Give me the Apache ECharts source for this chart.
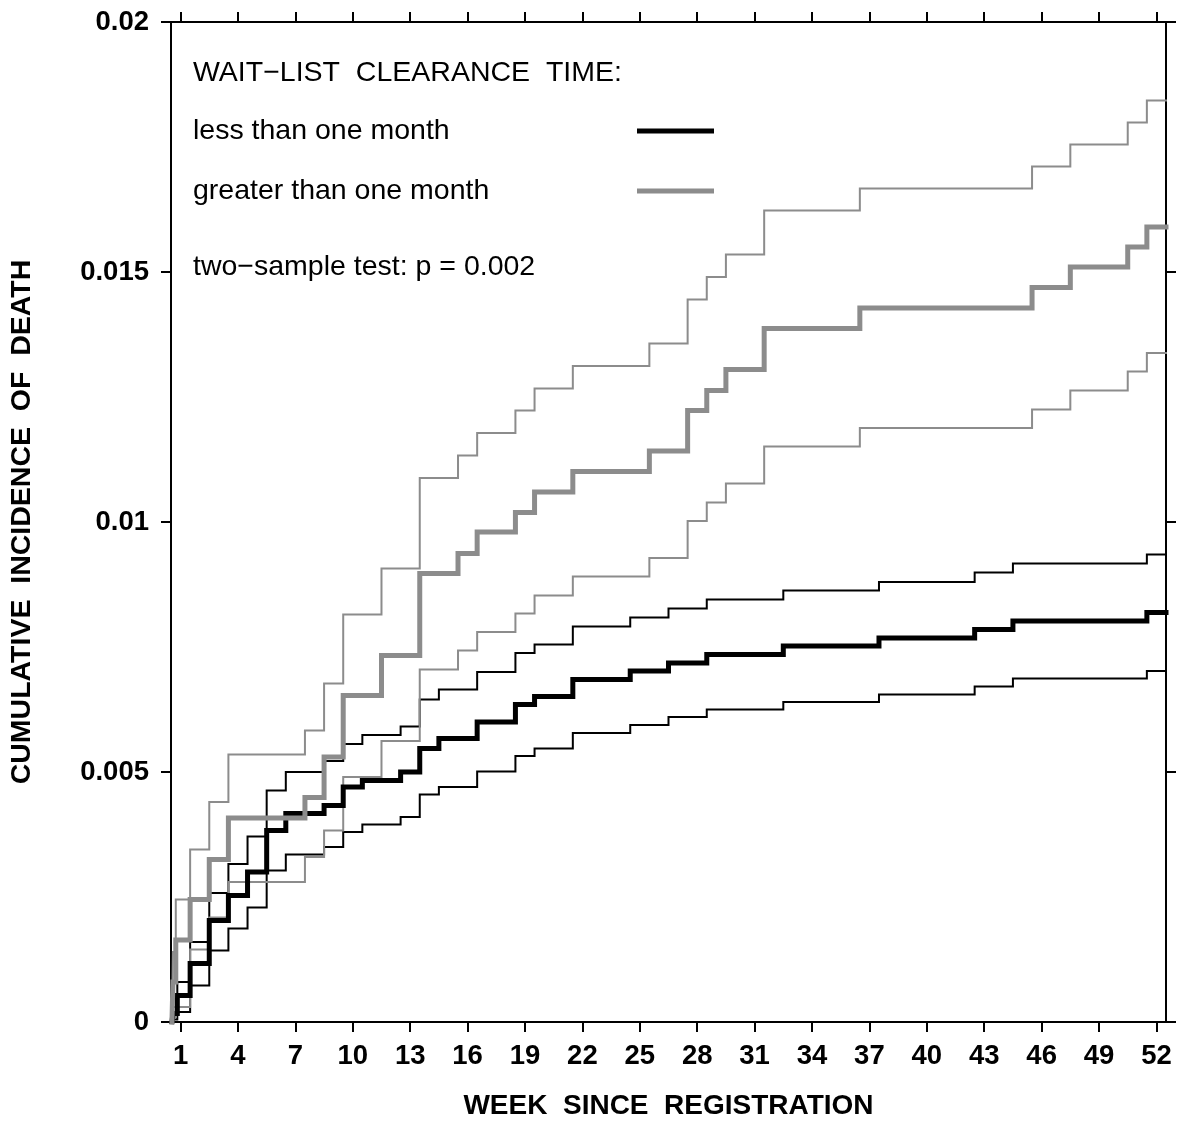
<!DOCTYPE html>
<html>
<head>
<meta charset="utf-8">
<title>Cumulative incidence of death</title>
<script src="https://cdn.jsdelivr.net/npm/echarts@6.0.0/dist/echarts.min.js"></script>
<style>
  html, body { margin: 0; padding: 0; background: #fff; }
  #main { width: 1177px; height: 1146px; }
</style>
</head>
<body>
<div id="main"></div>
<script>
// tick labels
var xTicks = [1, 4, 7, 10, 13, 16, 19, 22, 25, 28, 31, 34, 37, 40, 43, 46, 49, 52];
var yTicks = [0, 0.005, 0.01, 0.015, 0.02];
var yTickLabels = ['0', '0.005', '0.01', '0.015', '0.02'];

// less than one month: jump weeks, estimate and confidence band
var shortWeeks = [0.55, 0.6, 0.83, 1.5, 2.5, 3.5, 4.5, 5.5, 6.5, 8.5, 9.5, 10.5, 12.5, 13.5,
    14.5, 16.5, 18.5, 19.5, 21.5, 24.5, 26.5, 28.5, 32.5, 37.5, 42.5, 44.5, 51.5, 52.5];
var shortEst = [0, 0.00017, 0.00053, 0.00117, 0.00203, 0.00253, 0.003, 0.00383, 0.00417, 0.00433,
    0.0047, 0.00483, 0.005, 0.00547, 0.00567, 0.006, 0.00635, 0.00651, 0.00685, 0.00702,
    0.00718, 0.00735, 0.00752, 0.00768, 0.00785, 0.00802, 0.00819, 0.00819];
var shortUpper = [0, 0.0003, 0.0008, 0.0016, 0.00258, 0.00316, 0.00371, 0.00463, 0.005, 0.00522,
    0.00556, 0.00574, 0.00591, 0.00645, 0.00665, 0.007, 0.00738, 0.00755, 0.00791, 0.00809,
    0.00827, 0.00845, 0.00863, 0.0088, 0.00899, 0.00917, 0.00935, 0.00935];
var shortLower = [0, 0.00005, 0.0002, 0.00073, 0.00143, 0.00187, 0.00229, 0.00303, 0.00335, 0.0035,
    0.0038, 0.00395, 0.0041, 0.00455, 0.0047, 0.00501, 0.00532, 0.00547, 0.00578, 0.00594,
    0.0061, 0.00625, 0.0064, 0.00655, 0.00671, 0.00687, 0.00702, 0.00702];

// greater than one month
var longWeeks = [0.55, 0.6, 0.75, 1.5, 2.5, 3.5, 7.5, 8.5, 9.5, 11.5, 13.5, 15.5, 16.5, 18.5,
    19.5, 21.5, 25.5, 27.5, 28.5, 29.5, 31.5, 36.5, 45.5, 47.5, 50.5, 51.5, 52.5];
var longEst = [0, 0.0008, 0.00164, 0.00245, 0.00325, 0.00408, 0.00449, 0.0053, 0.00653, 0.00733,
    0.00897, 0.00937, 0.0098, 0.01019, 0.0106, 0.01101, 0.01142, 0.01223, 0.01263, 0.01305,
    0.01387, 0.01428, 0.01469, 0.0151, 0.0155, 0.0159, 0.0159];
var longUpper = [0, 0.0014, 0.00245, 0.00345, 0.0044, 0.00535, 0.00583, 0.00677, 0.00815, 0.00907,
    0.01088, 0.01133, 0.01178, 0.01223, 0.01267, 0.01312, 0.01357, 0.01445, 0.0149, 0.01535,
    0.01623, 0.01667, 0.01711, 0.01755, 0.01799, 0.01843, 0.01843];
var longLower = [0, 0.0001, 0.0003, 0.00145, 0.00209, 0.0028, 0.0033, 0.00383, 0.0049, 0.00562,
    0.00705, 0.00743, 0.0078, 0.00817, 0.00853, 0.00891, 0.00928, 0.01002, 0.01039, 0.01077,
    0.01151, 0.01188, 0.01225, 0.01263, 0.01301, 0.01338, 0.01338];

var FONT = '"Liberation Sans", Arial, Helvetica, sans-serif';
var GREY = '#8c8c8c';

function pairs(weeks, values) {
    return weeks.map(function (w, i) { return [w, values[i]]; });
}

function stepLine(name, weeks, values, color, width) {
    return {
        name: name,
        type: 'line',
        step: 'end',
        symbol: 'none',
        silent: true,
        data: pairs(weeks, values),
        lineStyle: { color: color, width: width, cap: 'square', join: 'miter' }
    };
}

function xAxisCfg(pos, showLabel) {
    return {
        type: 'value', position: pos, min: 0.5, max: 52.5,
        axisLine: { show: true, onZero: false, lineStyle: { color: '#000', width: 2 } },
        axisTick: { show: true, inside: false, length: 10, customValues: xTicks,
            lineStyle: { color: '#000', width: 2 } },
        axisLabel: { show: showLabel, customValues: xTicks, margin: 20, color: '#000',
            fontFamily: FONT, fontWeight: 'bold', fontSize: 27.5 },
        splitLine: { show: false }
    };
}

function yAxisCfg(pos, showLabel) {
    return {
        type: 'value', position: pos, min: 0, max: 0.02, interval: 0.005,
        axisLine: { show: true, onZero: false, lineStyle: { color: '#000', width: 2 } },
        axisTick: { show: true, inside: false, length: 10, lineStyle: { color: '#000', width: 2 } },
        axisLabel: { show: showLabel, margin: 22, color: '#000',
            fontFamily: FONT, fontWeight: 'bold', fontSize: 27.5,
            formatter: function (v) {
                var i = yTicks.indexOf(+v.toFixed(3));
                return i >= 0 ? yTickLabels[i] : '';
            } },
        splitLine: { show: false }
    };
}

var myChart = echarts.init(document.getElementById('main'));

var xb = xAxisCfg('bottom', true);
xb.name = 'WEEK  SINCE  REGISTRATION';
xb.nameLocation = 'middle';
xb.nameGap = 70;
xb.nameTextStyle = { color: '#000', fontFamily: FONT, fontWeight: 'bold', fontSize: 28,
    verticalAlign: 'top' };

var yl = yAxisCfg('left', true);
yl.name = 'CUMULATIVE  INCIDENCE  OF  DEATH';
yl.nameLocation = 'middle';
yl.nameGap = 134;
yl.nameTextStyle = { color: '#000', fontFamily: FONT, fontWeight: 'bold', fontSize: 28.5 };

var legendText = { fill: '#000', font: '28.5px ' + FONT, verticalAlign: 'middle' };

var option = {
    backgroundColor: '#fff',
    animation: false,
    grid: { left: 165, top: 22, width: 1001, height: 1000 },
    xAxis: [xb, xAxisCfg('top', false)],
    yAxis: [yl, yAxisCfg('right', false)],
    series: [
        stepLine('less upper', shortWeeks, shortUpper, '#000', 2),
        stepLine('less lower', shortWeeks, shortLower, '#000', 2),
        stepLine('greater upper', longWeeks, longUpper, GREY, 2),
        stepLine('greater lower', longWeeks, longLower, GREY, 2),
        stepLine('less than one month', shortWeeks, shortEst, '#000', 5),
        stepLine('greater than one month', longWeeks, longEst, GREY, 5)
    ],
    graphic: [
        { type: 'text', left: 193, top: 59, style: Object.assign({ text: 'WAIT\u2212LIST  CLEARANCE  TIME:' }, legendText) },
        { type: 'text', left: 193, top: 117, style: Object.assign({ text: 'less than one month' }, legendText) },
        { type: 'text', left: 193, top: 177, style: Object.assign({ text: 'greater than one month' }, legendText) },
        { type: 'text', left: 193, top: 253, style: Object.assign({ text: 'two\u2212sample test: p = 0.002' }, legendText) },
        { type: 'line', shape: { x1: 637, y1: 131, x2: 714, y2: 131 }, style: { stroke: '#000', lineWidth: 5 } },
        { type: 'line', shape: { x1: 637, y1: 191, x2: 714, y2: 191 }, style: { stroke: GREY, lineWidth: 5 } }
    ]
};

myChart.setOption(option);
</script>
</body>
</html>
